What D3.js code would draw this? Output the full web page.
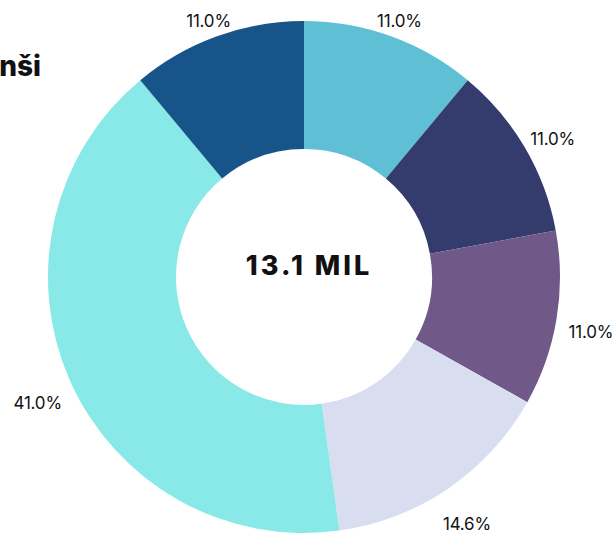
<!DOCTYPE html>
<html>
<head>
<meta charset="utf-8">
<script src="https://cdn.jsdelivr.net/npm/d3@7/dist/d3.min.js"></script>
<style>
  html, body { margin: 0; padding: 0; background: #fff; overflow: hidden; }
  svg { display: block; }
</style>
</head>
<body>
<svg id="chart" width="614" height="535"></svg>
<script>
// Data (clockwise from 12 o'clock)
const categories = ["A", "B", "C", "D", "E", "F"];
const values = [11.0, 11.0, 11.0, 14.6, 41.0, 11.0];
const labels = ["11.0%", "11.0%", "11.0%", "14.6%", "41.0%", "11.0%"];
const colors = ["#5fbfd4", "#343c6e", "#705889", "#d9ddf0", "#88e9e8", "#17548a"];
const centerText = "13.1 MIL";
const titleText = "nši";

const svg = d3.select("#chart");
const cx = 304, cy = 277, outerR = 256, innerR = 128;

const g = svg.append("g").attr("transform", `translate(${cx},${cy})`);

const data = categories.map((c, i) => ({ cat: c, value: values[i], label: labels[i], color: colors[i] }));

const pie = d3.pie().value(d => d.value).sort(null);
const arc = d3.arc().innerRadius(innerR).outerRadius(outerR);
const arcs = pie(data);

g.selectAll("path.slice")
  .data(arcs)
  .join("path")
  .attr("class", "slice")
  .attr("d", arc)
  .attr("fill", d => d.data.color);

// outside labels
const labelFont = "Inter, 'Open Sans', sans-serif";
g.selectAll("text.lbl")
  .data(arcs)
  .join("text")
  .attr("class", "lbl")
  .attr("font-family", labelFont)
  .attr("font-size", 17)
  .attr("letter-spacing", -0.2)
  .attr("fill", "#111")
  .attr("text-anchor", "middle")
  .attr("dominant-baseline", "central")
  .attr("transform", d => {
    const a = (d.startAngle + d.endAngle) / 2;
    const s = Math.sin(a), c = Math.cos(a);
    const r = 276 + 14 * Math.abs(s) + 6 * Math.max(0, -c);
    return `translate(${r * s},${-r * c + 8})`;
  })
  .text(d => d.data.label);

// center text
g.append("text")
  .attr("text-anchor", "middle")
  .attr("dominant-baseline", "central")
  .attr("y", -12)
  .attr("x", 5)
  .attr("font-family", "Inter, 'Open Sans', sans-serif")
  .attr("font-weight", 800)
  .attr("font-size", 27)
  .attr("letter-spacing", 3)
  .attr("fill", "#111")
  .text(centerText);

// cropped title
svg.append("text")
  .attr("x", 41)
  .attr("y", 76)
  .attr("text-anchor", "end")
  .attr("font-family", "Inter, 'Open Sans', sans-serif")
  .attr("font-weight", 800)
  .attr("font-size", 28)
  .attr("fill", "#111")
  .text(titleText);
</script>
</body>
</html>
